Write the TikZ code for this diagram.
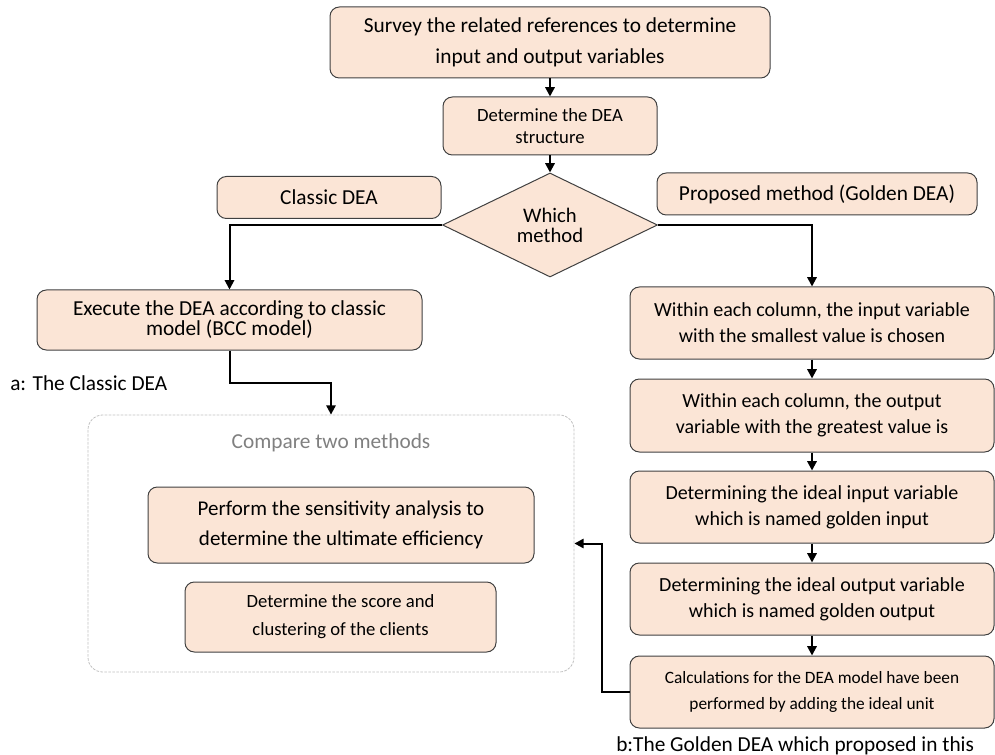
\documentclass[tikz,border=0pt]{standalone}
\usepackage{fontspec}
\setmainfont{Carlito}
\usetikzlibrary{arrows.meta,calc,shapes.geometric}
\definecolor{FlowPeach}{HTML}{FBE5D6}
\definecolor{FlowEdge}{HTML}{404040}
\definecolor{FlowMuted}{HTML}{808080}
\definecolor{FlowDash}{HTML}{C0C0C0}
\tikzset{
  stepbox/.style={draw=FlowEdge,line width=0.75pt,rounded corners=7pt,fill=FlowPeach,align=center,inner sep=0pt},
  choice/.style={diamond,draw=FlowEdge,line width=0.75pt,fill=FlowPeach,align=center,inner sep=0pt},
  flowarrow/.style={-{Triangle[length=7pt,width=7pt]},line width=1.5pt,draw=black},
  groupbox/.style={draw=FlowDash,dash pattern=on 2pt off 1pt,line width=0.6pt,rounded corners=11pt},
  caption/.style={anchor=west,inner sep=0pt,font=\fontsize{16}{18}\selectfont}
}

\begin{document}
\begin{tikzpicture}[x=0.75pt,y=-0.75pt]
  \useasboundingbox (0,0) rectangle (995,755);
  % top of the flow
  \node[stepbox,minimum width=330pt,minimum height=53.25pt,font=\fontsize{16}{23}\selectfont] (survey) at (550,42.5)
    {Survey the related references to determine\\input and output variables};
  \node[stepbox,minimum width=160.5pt,minimum height=43.5pt,font=\fontsize{14}{17}\selectfont] (struct) at (550,126)
    {Determine the DEA\\structure};
  \node[choice,minimum width=161.25pt,minimum height=78pt,font=\fontsize{15.5}{15}\selectfont] (decide) at (550,225)
    {Which\\method};
  \node[stepbox,minimum width=168pt,minimum height=31.5pt,font=\fontsize{16}{18}\selectfont] (classic) at (329,197.5)
    {Classic DEA};
  \node[stepbox,minimum width=240pt,minimum height=31.5pt,font=\fontsize{16}{18}\selectfont] (proposed) at (817,194)
    {Proposed method (Golden DEA)};

  % classic branch
  \node[stepbox,minimum width=288.75pt,minimum height=45pt,font=\fontsize{16}{15}\selectfont] (execute) at (229.5,320)
    {Execute the DEA according to classic\\model (BCC model)};
  \node[caption] (labela) at (10,383) {a: The Classic DEA};

  % comparison group
  \node[groupbox,minimum width=364.5pt,minimum height=192.75pt] (compare) at (331,543.5) {};
  \node[font=\fontsize{16}{18}\selectfont,text=FlowMuted] (comparetitle) at (331,443) {Compare two methods};
  \node[stepbox,minimum width=289.5pt,minimum height=57pt,font=\fontsize{15.75}{22.5}\selectfont] (perform) at (341,525)
    {Perform the sensitivity analysis to\\determine the ultimate efficiency};
  \node[stepbox,minimum width=233.25pt,minimum height=52.5pt,font=\fontsize{14}{21}\selectfont] (score) at (340.5,617)
    {Determine the score and\\clustering of the clients};

  % golden branch
  \node[stepbox,minimum width=273pt,minimum height=54pt,font=\fontsize{15}{19.5}\selectfont] (within1) at (812,323)
    {Within each column, the input variable\\with the smallest value is chosen};
  \node[stepbox,minimum width=273pt,minimum height=54.75pt,font=\fontsize{15}{19.5}\selectfont] (within2) at (812,415.5)
    {Within each column, the output\\variable with the greatest value is};
  \node[stepbox,minimum width=273pt,minimum height=54pt,font=\fontsize{15}{19.5}\selectfont] (idealin) at (812,507)
    {Determining the ideal input variable\\which is named golden input};
  \node[stepbox,minimum width=273pt,minimum height=54pt,font=\fontsize{15}{19.5}\selectfont] (idealout) at (812,599)
    {Determining the ideal output variable\\which is named golden output};
  \node[stepbox,minimum width=273pt,minimum height=54pt,font=\fontsize{13}{20}\selectfont] (calc) at (812,692)
    {Calculations for the DEA model have been\\performed by adding the ideal unit};
  \node[caption] (labelb) at (616,746) {b:The Golden DEA which proposed in this};

  % connectors
  \draw[flowarrow] (survey.south) -- (struct.north);
  \draw[flowarrow] (struct.south) -- (decide.north);
  \draw[flowarrow] (decide.west) -| (execute.north);
  \draw[flowarrow] (decide.east) -| (within1.north);
  \draw[flowarrow] (execute.south) |- ($(execute.south)!0.5!(compare.north)$) -| (compare.north);
  \foreach \from/\to in {within1/within2,within2/idealin,idealin/idealout,idealout/calc}
    \draw[flowarrow] (\from.south) -- (\to.north);
  \draw[flowarrow] (calc.west) -- ++(-28,0) |- (compare.east);
\end{tikzpicture}
\end{document}
